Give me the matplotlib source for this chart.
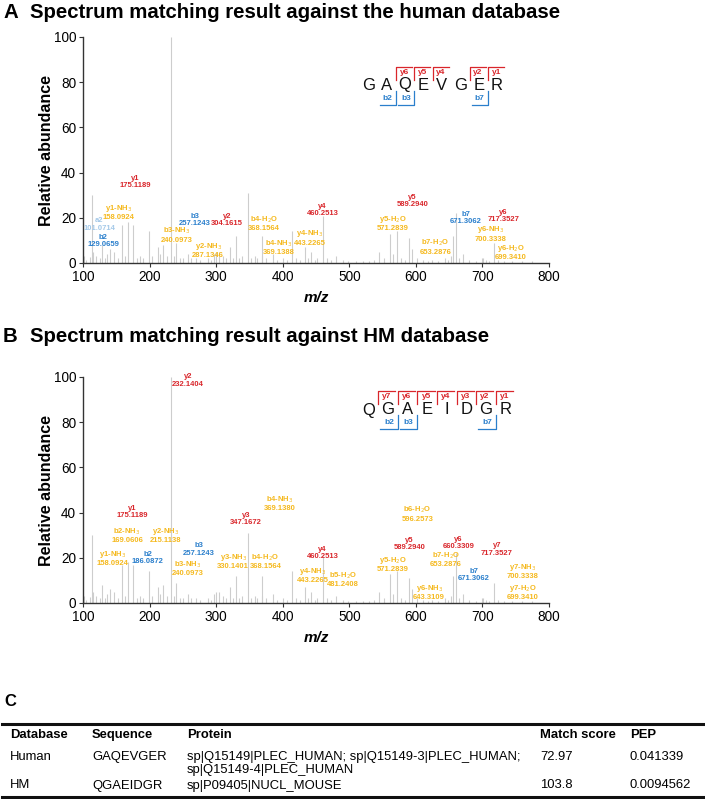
import matplotlib
matplotlib.use("Agg")
import matplotlib.pyplot as plt
from matplotlib.lines import Line2D

W, H = 705, 799
plt.rcParams['font.family'] = ['Liberation Sans', 'DejaVu Sans']

RED = '#d9262b'
BLUE = '#2a7fcc'
GOLD = '#f5b91e'
LBLUE = '#a3c8e8'
GRAY = '#cdcdcd'

# one MS2 spectrum, matched against two databases
peak_mz = [101.1, 105, 110, 113.5, 115.1, 120, 125, 129.1, 133, 136, 140.5, 147, 152,
           158.1, 163, 168, 175.1, 181, 185.5, 190, 199.5, 204, 213, 216, 220.5, 226,
           232.1, 236, 240.1, 245, 250, 257.1, 262, 270, 276, 287.1, 292, 296.5, 300.5,
           304.2, 310, 315, 320.5, 325, 330.1, 335, 339.5, 347.2, 352, 358, 362,
           368.2, 369.1, 375, 385.5, 392, 400, 407, 414, 420, 426, 433, 438, 443.2,
           448, 452, 460.3, 466, 472, 480.5, 490, 498, 510, 520, 530, 537, 544, 552,
           560.5, 565, 571.3, 578, 584, 589.3, 594.5, 602, 610, 618, 625, 633, 643.3,
           648, 653.3, 656.5, 660.3, 665, 671.3, 680, 690, 699.3, 700.3, 706, 710,
           717.4, 724, 732, 745, 760, 775]
peak_int = [3, 1.5, 2.5, 30, 5, 3, 2, 8, 2, 4, 6, 5, 2,
            17, 3, 18, 17, 2, 3, 2, 14, 3, 7, 4, 8, 3,
            100, 3, 9, 2, 2, 4, 2, 2, 1.5, 2, 1.5, 4, 5,
            5, 3, 2, 7, 2, 12, 2, 3, 31, 2, 3, 2,
            12, 3, 2, 4, 1.5, 2, 1.5, 14, 2, 1.5, 7, 2, 5,
            1.5, 2, 21, 2, 1.5, 3, 1.5, 1, 1, 1, 1, 1.5, 5, 2,
            13, 4, 14, 2, 1.5, 11, 6, 2, 1.5, 1, 1.5, 1, 2,
            1.5, 3, 12, 22, 2, 4, 1.5, 1, 2, 2, 1.5, 1,
            9, 1.5, 1, 1, 1, 1]

# panel A annotations (human database)
ions_a = ['a2', 'b2', 'y1-NH$_3$', 'y1', 'b3-NH$_3$', 'b3', 'y2-NH$_3$', 'y2',
          'b4-H$_2$O', 'b4-NH$_3$', 'y4-NH$_3$', 'y4', 'y5-H$_2$O', 'y5',
          'b7-H$_2$O', 'b7', 'y6-NH$_3$', 'y6', 'y6-H$_2$O']
mz_a = ['101.0714', '129.0659', '158.0924', '175.1189', '240.0973', '257.1243',
        '287.1346', '304.1615', '368.1564', '369.1388', '443.2265', '460.2513',
        '571.2839', '589.2940', '653.2876', '671.3062', '700.3338', '717.3527',
        '699.3410']
kind_a = ['a', 'b', 'n', 'y', 'n', 'b', 'n', 'y', 'n', 'n', 'n', 'y', 'n', 'y',
          'n', 'b', 'n', 'y', 'n']
pos_a = [(124.5, 17), (130.5, 9.6), (153, 22.6), (178, 36), (240.5, 12.5),
         (268, 18.9), (288, 5.6), (316.5, 18.9), (372, 17.5), (394.5, 7),
         (440.5, 11.3), (459.5, 23.6), (565, 17.7), (594.5, 27.4), (629.5, 7.2),
         (675.3, 19.8), (712.5, 13), (731.5, 20.8), (742.5, 4.8)]

# panel B annotations (HM database)
ions_b = ['y1-NH$_3$', 'b2-NH$_3$', 'y1', 'b2', 'y2-NH$_3$', 'y2', 'b3-NH$_3$', 'b3',
          'y3-NH$_3$', 'y3', 'b4-H$_2$O', 'b4-NH$_3$', 'y4-NH$_3$', 'y4', 'b5-H$_2$O',
          'y5-H$_2$O', 'y5', 'b6-H$_2$O', 'y6-NH$_3$', 'b7-H$_2$O', 'y6', 'b7',
          'y7-NH$_3$', 'y7-H$_2$O', 'y7']
mz_b = ['158.0924', '169.0606', '175.1189', '186.0872', '215.1138', '232.1404',
        '240.0973', '257.1243', '330.1401', '347.1672', '368.1564', '369.1380',
        '443.2265', '460.2513', '481.2408', '571.2839', '589.2940', '596.2573',
        '643.3109', '653.2876', '660.3309', '671.3062', '700.3338', '699.3410',
        '717.3527']
kind_b = ['n', 'n', 'y', 'b', 'n', 'y', 'n', 'b', 'n', 'y', 'n', 'n', 'n', 'y', 'n',
          'n', 'y', 'n', 'n', 'n', 'y', 'b', 'n', 'n', 'y']
pos_b = [(144.5, 19.9), (166.5, 30), (174, 40.3), (197.5, 20), (224, 30),
         (258, 98.5), (257, 15.5), (274, 23.7), (325.5, 18.5), (344.5, 37.2),
         (374, 18.5), (395.5, 44.1), (445.5, 12.4), (459.5, 22.2), (490, 10.5),
         (565, 17.4), (590.5, 26), (602, 39.5), (620, 5), (645.3, 19.2),
         (664, 26.4), (687, 12.4), (760, 14), (761, 5), (722, 23.7)]

seq_a, yion_a, bion_a = 'GAQEVGER', [6, 5, 4, 2, 1], [2, 3, 7]
seq_b, yion_b, bion_b = 'QGAEIDGR', [7, 6, 5, 4, 3, 2, 1], [2, 3, 7]

# panel C table
headers = ['Database', 'Sequence', 'Protein', 'Match score', 'PEP']
row_human = ['Human', 'GAQEVGER',
             'sp|Q15149|PLEC_HUMAN; sp|Q15149-3|PLEC_HUMAN;\nsp|Q15149-4|PLEC_HUMAN',
             '72.97', '0.041339']
row_hm = ['HM', 'QGAEIDGR', 'sp|P09405|NUCL_MOUSE', '103.8', '0.0094562']

col = {'y': RED, 'b': BLUE, 'n': GOLD, 'a': LBLUE}


def rect(x0, y0, x1, y1):
    """Pixel box (from top-left) to figure fraction."""
    return [x0 / W, 1 - y1 / H, (x1 - x0) / W, (y1 - y0) / H]


def spectrum(fig, top, ions, mzs, kinds, pos):
    ax = fig.add_axes(rect(83, top, 549, top + 226))
    ax.vlines(peak_mz, 0, peak_int, color=GRAY, lw=0.8)
    for ion, mz, k, (x, y) in zip(ions, mzs, kinds, pos):
        ax.text(x, y, ion + '\n' + mz, color=col[k], fontsize=5.5, fontweight='bold',
                ha='center', va='center', linespacing=1.05)
    ax.set_xlim(100, 800)
    ax.set_ylim(0, 100)
    ax.set_xticks(range(100, 801, 100))
    ax.set_yticks(range(0, 101, 20))
    for s in ['top', 'right']:
        ax.spines[s].set_visible(False)
    for s in ['left', 'bottom']:
        ax.spines[s].set_linewidth(1.0)
        ax.spines[s].set_color('#333333')
    ax.tick_params(labelsize=9.8, length=3, width=0.8, color='#333333', pad=2)
    ax.set_ylabel('Relative abundance', fontsize=11.5, fontweight='bold', labelpad=0)
    ax.set_xlabel('m/z', fontsize=11, fontweight='bold', style='italic', labelpad=5)
    return ax


def sequence(fig, seq, yions, bions, x0, dx, yl, yt, yb):
    n = len(seq)
    ax = fig.add_axes(rect(x0 - 0.5 * dx, yt - 3, x0 + (n - 0.5) * dx, yb + 3))
    ax.set_xlim(-0.5, n - 0.5)
    ax.set_ylim(yb + 3, yt - 3)
    ax.axis('off')
    for i, ch in enumerate(seq):
        ax.text(i, yl, ch, fontsize=12, ha='center', va='center', color='#111111')
    for k in yions:
        b = n - k - 0.5
        ax.plot([b, b, b + 0.88], [yt + 13, yt, yt], color=RED, lw=0.9)
        ax.text(b + 0.45, yt + 5.5, 'y%d' % k, color=RED, fontsize=6,
                fontweight='bold', ha='center', va='center')
    for k in bions:
        b = k - 0.5
        ax.plot([b - 0.88, b, b], [yb, yb, yb - 14], color=BLUE, lw=0.9)
        ax.text(b - 0.45, yb - 7, 'b%d' % k, color=BLUE, fontsize=6,
                fontweight='bold', ha='center', va='center')


fig = plt.figure(figsize=(W / 100, H / 100), dpi=100)

fig.text(3 / W, 1 - 12 / H, 'A', fontsize=14.7, fontweight='bold', va='center')
fig.text(30 / W, 1 - 12 / H, 'Spectrum matching result against the human database',
         fontsize=14.7, fontweight='bold', va='center')
spectrum(fig, 37, ions_a, mz_a, kind_a, pos_a)
sequence(fig, seq_a, yion_a, bion_a, 368.3, 18.4, 85, 67, 105)

fig.text(3 / W, 1 - 337 / H, 'B', fontsize=14.7, fontweight='bold', va='center')
fig.text(30 / W, 1 - 337 / H, 'Spectrum matching result against HM database',
         fontsize=14.7, fontweight='bold', va='center')
spectrum(fig, 377, ions_b, mz_b, kind_b, pos_b)
sequence(fig, seq_b, yion_b, bion_b, 368.3, 19.6, 410, 391, 429)

fig.text(4 / W, 1 - 702 / H, 'C', fontsize=12, fontweight='bold', va='center')
col_x = [10, 92, 187, 540, 630]
tfont = dict(fontsize=9.4, family=['Liberation Sans', 'DejaVu Sans'])

for y, lw in [(724, 2.2), (797, 2.2)]:
    fig.add_artist(Line2D([2 / W, 703 / W], [1 - y / H, 1 - y / H], lw=lw,
                          color='#111111', transform=fig.transFigure))
for x, t in zip(col_x, headers):
    fig.text(x / W, 1 - 735 / H, t, fontweight='bold', va='center', **tfont)
for x, t in zip(col_x, row_human):
    fig.text(x / W, 1 - 751 / H, t, va='top', linespacing=1.15, **tfont)
for x, t in zip(col_x, row_hm):
    fig.text(x / W, 1 - 785.5 / H, t, va='center', **tfont)

fig.savefig('out.png', dpi=100)
